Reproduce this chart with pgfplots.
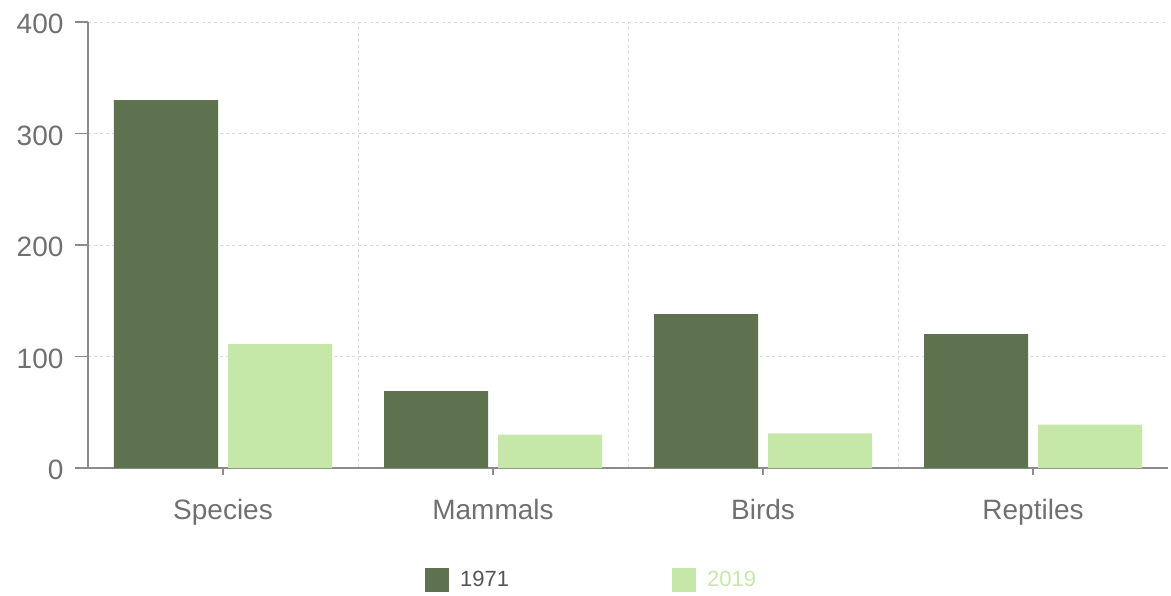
\documentclass[border=0pt]{standalone}
\usepackage{pgfplots}
\pgfplotsset{compat=1.18}
\usepackage{fontspec}
\setmainfont{Liberation Sans}
\definecolor{dark}{HTML}{5E7250}
\definecolor{light}{HTML}{C5E8A8}
\definecolor{lighttxt}{HTML}{C8E6AE}
\definecolor{txt}{HTML}{707070}
\definecolor{legtxt}{HTML}{555555}
\definecolor{axc}{HTML}{8C8C8C}
\definecolor{gridc}{HTML}{DADADA}
\begin{document}
\begin{tikzpicture}
\begin{axis}[
  scale only axis, width=1080pt, height=446pt,
  xmin=-0.5, xmax=3.5, ymin=0, ymax=400,
  xtick={0,1,2,3}, xticklabels={Species,Mammals,Birds,Reptiles},
  minor xtick={0.5,1.5,2.5},
  ytick={0,100,200,300,400},
  axis lines=left,
  axis line style={axc, line width=1.3pt, -},
  ymajorgrids, xminorgrids,
  major grid style={gridc, dashed, line width=0.8pt},
  minor grid style={gridc, dashed, line width=0.8pt},
  tick style={axc, line width=1.3pt},
  minor tick length=0pt,
  tick align=outside, major tick length=13pt,
  xtick style={/pgfplots/major tick length=7pt},
  ticklabel style={font=\fontsize{28}{32}\selectfont, text=txt},
  yticklabel style={xshift=-8pt, yshift=-2pt},
  xticklabel style={yshift=-15pt},
  /pgf/number format/assume math mode=true,
  bar width=104pt,
  legend style={draw=none, fill=none, inner sep=0pt, at={(0.312,-0.251)}, anchor=west,
    font=\fontsize{22}{26}\selectfont, nodes={inner xsep=11pt},
    /tikz/every even column/.append style={column sep=152pt}},
  legend columns=2,
  legend cell align=left,
  legend image code/.code={\fill[#1] (0pt,-12pt) rectangle (24pt,12pt);},
]
\addplot[ybar, fill=dark, draw=none, bar shift=-57pt] coordinates {(0,330) (1,69) (2,138) (3,120)};
\addlegendentry{\textcolor{legtxt}{1971}}
\addplot[ybar, fill=light, draw=none, bar shift=57pt] coordinates {(0,111) (1,30) (2,31) (3,39)};
\addlegendentry{\textcolor{lighttxt}{2019}}
\coordinate (bl) at (rel axis cs:0,0);
\coordinate (tr) at (rel axis cs:1,1);
\end{axis}
\pgfresetboundingbox
\path[use as bounding box] ([xshift=-88pt,yshift=-127pt]bl) rectangle ([xshift=3pt,yshift=22pt]tr);
\end{tikzpicture}
\end{document}
